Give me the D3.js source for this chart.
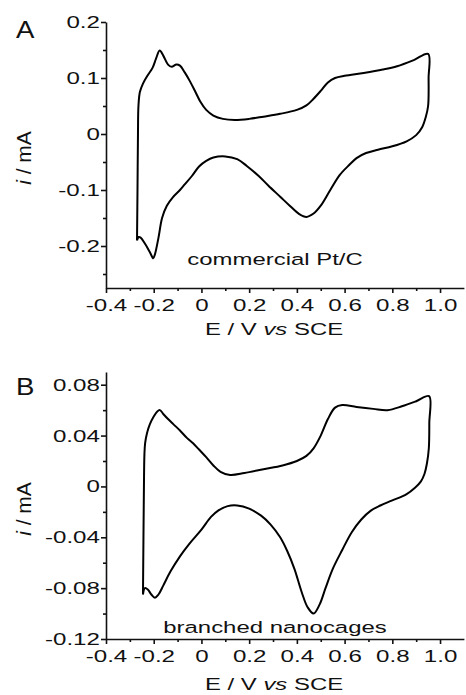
<!DOCTYPE html>
<html><head><meta charset="utf-8">
<script src="https://cdn.jsdelivr.net/npm/d3@7"></script>
<style>
body{margin:0;background:#fff}
svg{display:block}
text{font-family:"Liberation Sans",Arial,sans-serif;fill:#111}
</style>
</head><body>
<svg id="c" width="466" height="695"></svg>
<script>
// ---- Panel A: commercial Pt/C ----
const potentialA = [-0.27,-0.268,-0.266,-0.264,-0.258,-0.245,-0.225,-0.205,-0.19,-0.175,-0.16,-0.14,-0.125,-0.105,-0.09,-0.07,-0.048,-0.025,-0.005,0.02,0.05,0.09,0.14,0.2,0.26,0.33,0.4,0.44,0.47,0.5,0.53,0.56,0.6,0.68,0.76,0.82,0.89,0.95,
  0.952,0.95,0.94,0.925,0.9,0.86,0.8,0.74,0.69,0.65,0.62,0.58,0.54,0.5,0.47,0.44,0.41,0.37,0.33,0.28,0.24,0.19,0.15,0.1,0.05,0.02,-0.01,-0.04,-0.07,-0.09,-0.12,-0.145,-0.165,-0.18,-0.195,-0.202,-0.215,-0.235,-0.255,-0.263,-0.27];
const currentA = [-0.19,-0.10,0.0,0.05,0.075,0.09,0.105,0.118,0.135,0.149,0.14,0.124,0.12,0.124,0.122,0.11,0.094,0.075,0.058,0.043,0.033,0.027,0.025,0.027,0.031,0.036,0.043,0.051,0.063,0.077,0.092,0.1,0.104,0.109,0.115,0.121,0.132,0.143,
  0.1,0.05,0.03,0.012,-0.002,-0.013,-0.022,-0.028,-0.034,-0.043,-0.055,-0.073,-0.1,-0.128,-0.142,-0.148,-0.143,-0.128,-0.112,-0.092,-0.075,-0.057,-0.045,-0.04,-0.042,-0.048,-0.058,-0.075,-0.09,-0.1,-0.113,-0.128,-0.15,-0.185,-0.215,-0.222,-0.212,-0.197,-0.185,-0.184,-0.19];

// ---- Panel B: branched nanocages ----
const potentialB = [-0.245,-0.243,-0.241,-0.239,-0.236,-0.228,-0.216,-0.2,-0.185,-0.174,-0.16,-0.14,-0.118,-0.09,-0.06,-0.035,-0.01,0.02,0.05,0.08,0.12,0.18,0.26,0.34,0.4,0.44,0.47,0.5,0.53,0.56,0.59,0.65,0.72,0.78,0.84,0.9,0.954,
  0.955,0.953,0.945,0.935,0.92,0.895,0.86,0.8,0.75,0.71,0.67,0.63,0.59,0.55,0.52,0.495,0.47,0.445,0.42,0.39,0.36,0.33,0.29,0.25,0.2,0.15,0.11,0.07,0.04,0.0,-0.05,-0.09,-0.13,-0.16,-0.18,-0.195,-0.21,-0.225,-0.237,-0.245];
const currentB = [-0.085,-0.04,0.0,0.025,0.034,0.042,0.049,0.055,0.059,0.06,0.057,0.053,0.049,0.044,0.038,0.034,0.029,0.023,0.0165,0.0115,0.009,0.0105,0.0135,0.0165,0.02,0.024,0.03,0.04,0.053,0.062,0.064,0.0625,0.061,0.06,0.063,0.067,0.071,
  0.05,0.03,0.018,0.01,0.004,-0.001,-0.006,-0.011,-0.015,-0.019,-0.026,-0.036,-0.05,-0.065,-0.08,-0.093,-0.1,-0.095,-0.083,-0.065,-0.051,-0.04,-0.03,-0.023,-0.0175,-0.015,-0.0155,-0.019,-0.024,-0.034,-0.045,-0.055,-0.067,-0.078,-0.085,-0.0875,-0.085,-0.081,-0.08,-0.085];

// ---- ticks ----
const xTicks = [-0.4,-0.2,0,0.2,0.4,0.6,0.8,1.0];
const xTickLabels = ["-0.4","-0.2","0","0.2","0.4","0.6","0.8","1.0"];
const xMinorTicks = [-0.3,-0.1,0.1,0.3,0.5,0.7,0.9];
const yTicksA = [0.2,0.1,0,-0.1,-0.2];
const yTickLabelsA = ["0.2","0.1","0","-0.1","-0.2"];
const yMinorA = [0.15,0.05,-0.05,-0.15,-0.25];
const yTicksB = [0.08,0.04,0,-0.04,-0.08,-0.12];
const yTickLabelsB = ["0.08","0.04","0","-0.04","-0.08","-0.12"];
const yMinorB = [0.06,0.02,-0.02,-0.06,-0.10];
const panelLetters = ["A","B"];
const sampleNames = ["commercial Pt/C","branched nanocages"];

const SX = 1.42; // horizontal text stretch seen in the reference
const svg = d3.select("#c");
const x = d3.scaleLinear().domain([-0.4,1.1]).range([106,463.9]);

const panels = [
  {E:potentialA, I:currentA, yDom:[-0.275,0.2], yRange:[288,22], yt:yTicksA, ytl:yTickLabelsA, ym:yMinorA,
   letterY:38, noteY:265, titleY:335, ylabY:158, name:sampleNames[0], letter:panelLetters[0]},
  {E:potentialB, I:currentB, yDom:[-0.12,0.09], yRange:[639,372], yt:yTicksB, ytl:yTickLabelsB, ym:yMinorB,
   letterY:395, noteY:633, titleY:690, ylabY:509, name:sampleNames[1], letter:panelLetters[1]}
];

panels.forEach(p => {
  const y = d3.scaleLinear().domain(p.yDom).range(p.yRange);
  const g = svg.append("g");
  const axisY = p.yRange[0];

  // minor ticks
  g.append("g").attr("transform",`translate(0,${axisY})`)
    .call(d3.axisBottom(x).tickValues(xMinorTicks).tickSize(3).tickSizeOuter(0).tickFormat(""))
    .call(s=>s.select(".domain").remove());
  g.append("g").attr("transform",`translate(${x.range()[0]},0)`)
    .call(d3.axisLeft(y).tickValues(p.ym).tickSize(3).tickSizeOuter(0).tickFormat(""))
    .call(s=>s.select(".domain").remove());

  // major x axis
  const gx = g.append("g").attr("transform",`translate(0,${axisY})`)
    .call(d3.axisBottom(x).tickValues(xTicks).tickSize(5).tickSizeOuter(0).tickPadding(6)
      .tickFormat((d,i)=>xTickLabels[i]));
  gx.selectAll("text").attr("font-size",17).attr("font-family",null).attr("fill","#111")
    .attr("transform",`scale(${SX},1)`);

  // major y axis
  const gy = g.append("g").attr("transform",`translate(${x.range()[0]},0)`)
    .call(d3.axisLeft(y).tickValues(p.yt).tickSize(5).tickSizeOuter(0)
      .tickFormat((d,i)=>p.ytl[i]));
  gy.selectAll("text").attr("font-size",17).attr("font-family",null).attr("fill","#111")
    .attr("x",-4.3).attr("transform",`scale(${SX},1)`);

  g.selectAll(".domain, .tick line").attr("stroke","#111").attr("stroke-width",1.6);

  // curve
  const line = d3.line().x(d=>x(d[0])).y(d=>y(d[1])).curve(d3.curveCatmullRom.alpha(0.5));
  const pts = p.E.map((e,i)=>[e,p.I[i]]);
  g.append("path").attr("d",line(pts)).attr("fill","none")
    .attr("stroke","#000").attr("stroke-width",2).attr("stroke-linejoin","round");

  // panel letter
  g.append("text").attr("transform",`translate(16,${p.letterY}) scale(1.15,1)`)
    .attr("font-size",24).text(p.letter);

  // sample note
  g.append("text").attr("transform",`translate(275,${p.noteY}) scale(1.45,1)`)
    .attr("text-anchor","middle").attr("font-size",16.5).text(p.name);

  // x title
  const xt = g.append("text").attr("transform",`translate(274,${p.titleY}) scale(1.45,1)`)
    .attr("text-anchor","middle").attr("font-size",16.5);
  xt.append("tspan").text("E / V ");
  xt.append("tspan").attr("font-style","italic").text("vs");
  xt.append("tspan").text(" SCE");

  // y title
  const yt = g.append("text").attr("transform",`translate(31,${p.ylabY}) rotate(-90)`)
    .attr("text-anchor","middle").attr("font-size",21);
  yt.append("tspan").attr("font-style","italic").text("i");
  yt.append("tspan").text(" / mA");
});
</script>
</body></html>
